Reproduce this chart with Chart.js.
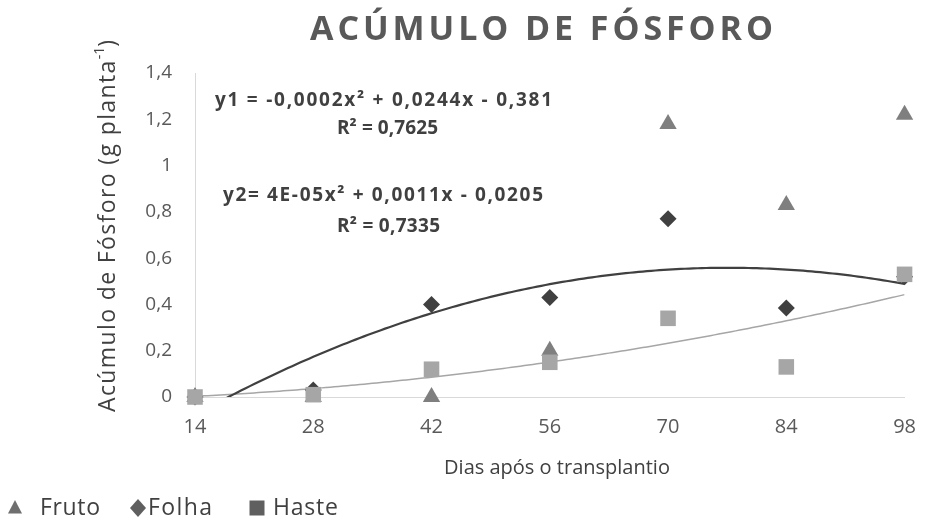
<!DOCTYPE html>
<html>
<head>
<meta charset="utf-8">
<script src="https://cdn.jsdelivr.net/npm/chart.js@4/dist/chart.umd.min.js"></script>
<style>
  html, body { margin: 0; padding: 0; background: #ffffff; }
  #wrap { width: 934px; height: 522px; position: relative; }
</style>
</head>
<body>
<div id="wrap"><canvas id="chart" width="934" height="522"></canvas></div>
<script>
// Dias após o transplantio (DAT)
const dias = [14, 28, 42, 56, 70, 84, 98];
// Acúmulo de fósforo (g planta-1) por órgão
const fruto = [0, 0, 0, 0.20, 1.18, 0.83, 1.22];
const folha = [0, 0.03, 0.40, 0.43, 0.77, 0.385, 0.52];
const haste = [0, 0.01, 0.12, 0.15, 0.34, 0.13, 0.53];
const yTicks = [0, 0.2, 0.4, 0.6, 0.8, 1, 1.2, 1.4];
const seriesNames = ['Fruto', 'Folha', 'Haste'];

const titleText = 'ACÚMULO DE FÓSFORO';
const xTitle = 'Dias após o transplantio';
const yTitleParts = ['Acúmulo de Fósforo (g planta', '-1', ')'];
const eqFolha = ['y1 = -0,0002x² + 0,0244x - 0,381', 'R² = 0,7625'];
const eqHaste = ['y2= 4E-05x² + 0,0011x - 0,0205', 'R² = 0,7335'];

const FONT = '"Open Sans", "DejaVu Sans", sans-serif';
const colFruto = '#7f7f7f';
const colFolha = '#404040';
const colHaste = '#a6a6a6';

// Polynomial (2nd order) least-squares fit, returns [c, b, a]
function quadFit(xs, ys) {
  const S = [0, 0, 0, 0, 0], T = [0, 0, 0];
  xs.forEach((x, i) => {
    for (let k = 0; k < 5; k++) S[k] += Math.pow(x, k);
    for (let k = 0; k < 3; k++) T[k] += ys[i] * Math.pow(x, k);
  });
  const M = [
    [S[0], S[1], S[2], T[0]],
    [S[1], S[2], S[3], T[1]],
    [S[2], S[3], S[4], T[2]]
  ];
  for (let i = 0; i < 3; i++) {
    for (let j = i + 1; j < 3; j++) {
      const f = M[j][i] / M[i][i];
      for (let k = i; k < 4; k++) M[j][k] -= f * M[i][k];
    }
  }
  const r = [0, 0, 0];
  for (let i = 2; i >= 0; i--) {
    let s = M[i][3];
    for (let k = i + 1; k < 3; k++) s -= M[i][k] * r[k];
    r[i] = s / M[i][i];
  }
  return r;
}

function trendPoints(xs, ys) {
  const [c, b, a] = quadFit(xs, ys);
  const pts = [];
  const x0 = xs[0], x1 = xs[xs.length - 1];
  for (let x = x0; x <= x1 + 1e-9; x += 0.5) {
    pts.push({ x: x, y: a * x * x + b * x + c });
  }
  return pts;
}

const pairs = (ys) => dias.map((d, i) => ({ x: d, y: ys[i] }));

// Draws text stretched over a given width by adjusting letter spacing
function fillSpread(ctx, text, x, y, width, align) {
  ctx.letterSpacing = '0px';
  const w = ctx.measureText(text).width;
  const s = (width - w) / (text.length - 1);
  ctx.letterSpacing = s + 'px';
  ctx.textAlign = 'left';
  const left = align === 'center' ? x - width / 2 : x;
  ctx.fillText(text, left, y);
  ctx.letterSpacing = '0px';
}

function drawLegendShape(ctx, kind, x, y, color) {
  ctx.fillStyle = color;
  ctx.beginPath();
  if (kind === 'triangle') {
    ctx.moveTo(x, y - 8);
    ctx.lineTo(x + 7, y + 5.5);
    ctx.lineTo(x - 7, y + 5.5);
  } else if (kind === 'diamond') {
    ctx.moveTo(x, y - 9);
    ctx.lineTo(x + 8, y);
    ctx.lineTo(x, y + 9);
    ctx.lineTo(x - 8, y);
  } else {
    ctx.rect(x - 7.5, y - 7.5, 15, 15);
  }
  ctx.closePath();
  ctx.fill();
}

const textLayer = {
  id: 'textLayer',
  afterDraw(chart) {
    const ctx = chart.ctx;
    ctx.save();
    ctx.textBaseline = 'middle';

    // Title
    ctx.font = 'bold 34px ' + FONT;
    ctx.fillStyle = '#595959';
    fillSpread(ctx, titleText, 310, 30, 463, 'left');

    // Trend-line equations
    ctx.font = 'bold 19px ' + FONT;
    ctx.fillStyle = '#404040';
    fillSpread(ctx, eqFolha[0], 383.5, 101, 337, 'center');
    fillSpread(ctx, eqFolha[1], 387.5, 129, 101, 'center');
    fillSpread(ctx, eqHaste[0], 383, 196, 320, 'center');
    fillSpread(ctx, eqHaste[1], 388.5, 227, 103, 'center');

    // X axis title
    ctx.font = '20px ' + FONT;
    ctx.fillStyle = '#404040';
    ctx.textAlign = 'center';
    ctx.fillText(xTitle, 557, 468);

    // Y axis title (rotated, with superscript)
    ctx.save();
    ctx.translate(108, 226);
    ctx.rotate(-Math.PI / 2);
    ctx.textAlign = 'left';
    ctx.letterSpacing = '0px';
    ctx.font = '23px ' + FONT;
    const w1 = ctx.measureText(yTitleParts[0]).width;
    const w3 = ctx.measureText(yTitleParts[2]).width;
    ctx.font = '14px ' + FONT;
    const w2 = ctx.measureText(yTitleParts[1]).width;
    const total = 372;
    const sp = Math.max(0, (total - (w1 + w2 + w3)) / yTitleParts[0].length);
    let px = -(w1 + w2 + w3 + sp * yTitleParts[0].length) / 2;
    ctx.font = '23px ' + FONT;
    ctx.letterSpacing = sp + 'px';
    ctx.fillText(yTitleParts[0], px, 0);
    ctx.letterSpacing = '0px';
    px += w1 + sp * yTitleParts[0].length;
    ctx.font = '14px ' + FONT;
    ctx.fillText(yTitleParts[1], px, -8);
    px += w2;
    ctx.font = '23px ' + FONT;
    ctx.fillText(yTitleParts[2], px, 0);
    ctx.restore();

    // Legend
    const legendY = 508;
    const legendItems = [
      { kind: 'triangle', color: '#6f6f6f', sx: 15, tx: 40, w: 60 },
      { kind: 'diamond', color: '#5f5f5f', sx: 138, tx: 148, w: 64 },
      { kind: 'square', color: '#5f5f5f', sx: 257, tx: 273, w: 65 }
    ];
    ctx.font = '23px ' + FONT;
    legendItems.forEach((it, i) => {
      drawLegendShape(ctx, it.kind, it.sx, legendY, it.color);
      ctx.fillStyle = '#404040';
      fillSpread(ctx, seriesNames[i], it.tx, legendY, it.w, 'left');
    });

    ctx.restore();
  }
};

new Chart(document.getElementById('chart'), {
  type: 'scatter',
  data: {
    datasets: [
      {
        label: seriesNames[2], data: pairs(haste), order: 0, clip: false,
        pointStyle: 'rect', pointRadius: 11, pointBackgroundColor: colHaste,
        pointBorderColor: colHaste, pointBorderWidth: 0, showLine: false
      },
      {
        label: seriesNames[1], data: pairs(folha), order: 1, clip: false,
        pointStyle: 'rectRot', pointRadius: 8.5, pointBackgroundColor: colFolha,
        pointBorderColor: colFolha, pointBorderWidth: 0, showLine: false
      },
      {
        label: seriesNames[0], data: pairs(fruto), order: 2, clip: false,
        pointStyle: 'triangle', pointRadius: 10, pointBackgroundColor: colFruto,
        pointBorderColor: colFruto, pointBorderWidth: 0, showLine: false
      },
      {
        label: 'Polinômio (Folha)', type: 'line', data: trendPoints(dias, folha), order: 3,
        borderColor: '#404040', borderWidth: 2.2, pointRadius: 0, tension: 0, fill: false
      },
      {
        label: 'Polinômio (Haste)', type: 'line', data: trendPoints(dias, haste), order: 4,
        borderColor: '#a6a6a6', borderWidth: 1.5, pointRadius: 0, tension: 0, fill: false
      }
    ]
  },
  options: {
    responsive: false,
    animation: false,
    events: [],
    layout: { padding: { top: 73, right: 15, left: 0, bottom: 0 } },
    plugins: {
      legend: { display: false },
      title: { display: false },
      tooltip: { enabled: false }
    },
    scales: {
      x: {
        type: 'linear', min: 14, max: 98,
        afterBuildTicks: (s) => { s.ticks = dias.map(v => ({ value: v })); },
        afterFit: (s) => { s.height = 125; },
        grid: { display: false, drawTicks: false },
        border: { display: true, color: '#d9d9d9', width: 1 },
        ticks: {
          color: '#595959', padding: 18, maxRotation: 0, autoSkip: false,
          font: { family: FONT, size: 20 }
        }
      },
      y: {
        type: 'linear', min: 0, max: 1.4,
        afterBuildTicks: (s) => { s.ticks = yTicks.map(v => ({ value: v })); },
        afterFit: (s) => { s.width = 195; },
        grid: { display: false, drawTicks: false },
        border: { display: true, color: '#d9d9d9', width: 1 },
        ticks: {
          color: '#595959', padding: 23,
          font: { family: FONT, size: 19 },
          callback: (v) => String(Math.round(v * 10) / 10).replace('.', ',')
        }
      }
    }
  },
  plugins: [textLayer]
});
</script>
</body>
</html>
